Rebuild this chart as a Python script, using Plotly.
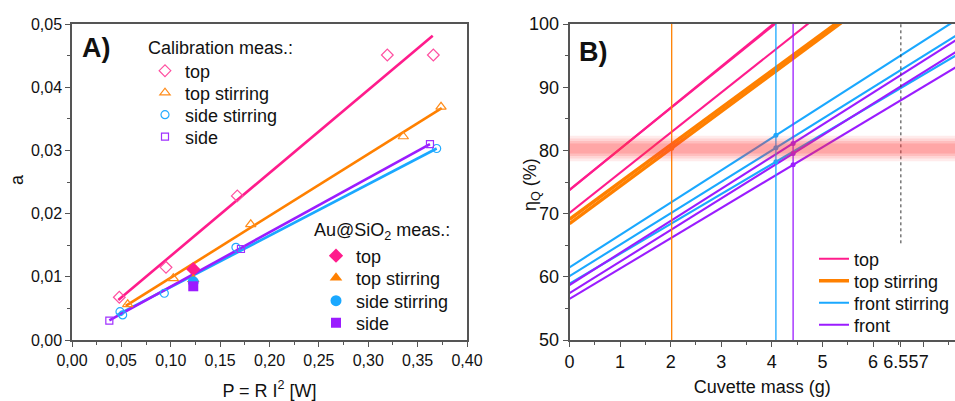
import plotly.graph_objects as go

# ---------------- Panel A data ----------------
cal_top_x = [0.0479, 0.0952, 0.1674, 0.3193, 0.3659]
cal_top_y = [0.00676, 0.0115, 0.0228, 0.0451, 0.0451]
cal_topst_x = [0.0564, 0.1026, 0.181, 0.3355, 0.3737]
cal_topst_y = [0.00565, 0.00976, 0.0183, 0.0322, 0.0369]
cal_sidest_x = [0.0486, 0.0513, 0.0935, 0.166, 0.3693]
cal_sidest_y = [0.00448, 0.00396, 0.0074, 0.01467, 0.0303]
cal_side_x = [0.0378, 0.1711, 0.3625]
cal_side_y = [0.00306, 0.0144, 0.0310]

fit_top_x = [0.0469, 0.3653]
fit_top_y = [0.00633, 0.04815]
fit_topst_x = [0.0544, 0.3744]
fit_topst_y = [0.0054, 0.0367]
fit_sidest_x = [0.0459, 0.3693]
fit_sidest_y = [0.00396, 0.0303]
fit_side_x = [0.0378, 0.3625]
fit_side_y = [0.0031, 0.0310]

au_x = 0.1228
au_top_y = 0.0112
au_topst_y = 0.0096
au_sidest_y = 0.0092
au_side_y = 0.0085

# ---------------- Panel B data ----------------
top_b = [73.7, 73.8, 70.1]
top_m = [6.53, 6.45, 6.35]
topst_b = [68.4, 69.1]
topst_m = [5.92, 5.88]
frontst_b = [61.5, 60.1, 58.9]
frontst_m = [5.12, 4.98, 4.73]
front_b = [58.7, 57.4, 56.5]
front_m = [5.07, 5.00, 4.80]

mass_topst = 2.02
mass_frontst = 4.08
mass_front = 4.42
mass_limit = 6.55
limit_bottom = 65.3
target_eta = 80.3

xB_ticks = [0, 1, 2, 3, 4, 5, 6, 6.55, 7]
xB_ticktext = ["0", "1", "2", "3", "4", "5", "6", "6.55", "7"]
xA_ticks = [0, 0.05, 0.10, 0.15, 0.20, 0.25, 0.30, 0.35, 0.40]
xA_ticktext = ["0,00", "0,05", "0,10", "0,15", "0,20", "0,25", "0,30", "0,35", "0,40"]
yA_ticks = [0, 0.01, 0.02, 0.03, 0.04, 0.05]
yA_ticktext = ["0,00", "0,01", "0,02", "0,03", "0,04", "0,05"]

PINK = "#FF1C8C"
ORANGE = "#FF8000"
BLUE = "#1AA8FF"
PURPLE = "#9B1CFF"
FONT = "Liberation Sans, Arial, sans-serif"

W, H = 955, 401
fig = go.Figure()
legends = {}
leg_count = [0]


def new_legend(px, py):
    leg_count[0] += 1
    key = "legend" if leg_count[0] == 1 else f"legend{leg_count[0]}"
    legends[key] = dict(x=px / W, y=1 - py / H, xanchor="left", yanchor="middle",
                        bgcolor="rgba(0,0,0,0)", font=dict(size=18),
                        borderwidth=0)
    return key


# ---- Panel A: fit lines ----
for fx, fy, c in [(fit_top_x, fit_top_y, PINK), (fit_topst_x, fit_topst_y, ORANGE),
                  (fit_sidest_x, fit_sidest_y, BLUE), (fit_side_x, fit_side_y, PURPLE)]:
    fig.add_trace(go.Scatter(x=fx, y=fy, mode="lines", line=dict(color=c, width=2.6),
                             showlegend=False, xaxis="x", yaxis="y", hoverinfo="skip"))

# ---- Panel A: calibration markers ----
cal_rows = [71, 93, 115, 137]
for (name, xs, ys, c, sym, sz), ry in zip([
        ("top", cal_top_x, cal_top_y, "#FF4FA0", "diamond-open", 9),
        ("top stirring", cal_topst_x, cal_topst_y, "#FF8C1A", "triangle-up-open", 9),
        ("side stirring", cal_sidest_x, cal_sidest_y, "#22AAFF", "circle-open", 8),
        ("side", cal_side_x, cal_side_y, "#A030FF", "square-open", 7)], cal_rows):
    fig.add_trace(go.Scatter(x=xs, y=ys, mode="markers", name=name,
                             marker=dict(color=c, symbol=sym, size=sz, line=dict(width=1.2)),
                             legend=new_legend(145, ry), xaxis="x", yaxis="y"))

# ---- Panel A: Au@SiO2 markers ----
au_rows = [256, 278, 301, 323]
for (name, yv, c, sym, sz), ry in zip([
        ("top", au_top_y, PINK, "diamond", 11),
        ("top stirring", au_topst_y, ORANGE, "triangle-up", 11),
        ("side stirring", au_sidest_y, BLUE, "circle", 11),
        ("side", au_side_y, PURPLE, "square", 10)], au_rows):
    fig.add_trace(go.Scatter(x=[au_x], y=[yv], mode="markers", name=name,
                             marker=dict(color=c, symbol=sym, size=sz),
                             legend=new_legend(316, ry), xaxis="x", yaxis="y"))

# ---- Panel B: efficiency lines ----
XMAX = 8.0


def add_group(bs, ms, color, name, width, leg):
    for i, (b, m) in enumerate(zip(bs, ms)):
        fig.add_trace(go.Scatter(x=[0, XMAX], y=[b, b + m * XMAX], mode="lines",
                                 line=dict(color=color, width=width), name=name,
                                 showlegend=(i == 0), legend=leg,
                                 xaxis="x2", yaxis="y2", hoverinfo="skip"))


leg_top = new_legend(814, 259)
leg_topst = new_legend(814, 281)
leg_frontst = new_legend(814, 303)
leg_front = new_legend(814, 325)
add_group(frontst_b, frontst_m, BLUE, "front stirring", 2.1, leg_frontst)
add_group(front_b, front_m, PURPLE, "front", 2.1, leg_front)
add_group(top_b, top_m, PINK, "top", 2.1, leg_top)
add_group(topst_b, topst_m, ORANGE, "top stirring", 3.4, leg_topst)

# vertical mass lines
for xv, c in [(mass_topst, ORANGE), (mass_frontst, BLUE), (mass_front, PURPLE)]:
    fig.add_trace(go.Scatter(x=[xv, xv], y=[50, 100], mode="lines",
                             line=dict(color=c, width=1.3), showlegend=False,
                             xaxis="x2", yaxis="y2", hoverinfo="skip"))
fig.add_trace(go.Scatter(x=[mass_limit, mass_limit], y=[limit_bottom, 100], mode="lines",
                         line=dict(color="#333333", width=1, dash="dot"), showlegend=False,
                         xaxis="x2", yaxis="y2", hoverinfo="skip"))


# intersection dots
def dots(xv, bs, ms, c):
    fig.add_trace(go.Scatter(x=[xv] * len(bs), y=[b + m * xv for b, m in zip(bs, ms)],
                             mode="markers", marker=dict(color=c, size=5),
                             showlegend=False, xaxis="x2", yaxis="y2", hoverinfo="skip"))


dots(mass_topst, topst_b[:1], topst_m[:1], ORANGE)
dots(mass_frontst, frontst_b, frontst_m, BLUE)
dots(mass_front, front_b, front_m, PURPLE)

# red band around target efficiency
shapes = []
for half, alpha in [(2.0, 0.10), (1.6, 0.12), (1.2, 0.15), (0.8, 0.18)]:
    shapes.append(dict(type="rect", xref="x2 domain", yref="y2", x0=0, x1=1,
                       y0=target_eta - half, y1=target_eta + half,
                       fillcolor=f"rgba(255,60,60,{alpha})", line=dict(width=0),
                       layer="above"))

axis_common = dict(showline=True, linecolor="#555555", linewidth=1.5, ticks="outside",
                   ticklen=5, tickcolor="#555555", tickwidth=1.2, showgrid=False,
                   zeroline=False, automargin=False, tickangle=0)

fig.update_layout(
    width=W, height=H,
    margin=dict(l=0, r=0, t=0, b=0, autoexpand=False),
    paper_bgcolor="white", plot_bgcolor="white",
    font=dict(family=FONT, color="#111111"),
    shapes=shapes,
    xaxis=dict(domain=[72 / W, 467 / W], range=[0, 0.40], anchor="y",
               tickvals=xA_ticks, ticktext=xA_ticktext, tickfont=dict(size=16),
               mirror=True,
               minor=dict(ticks="outside", ticklen=3, dtick=0.025, tickcolor="#555555"),
               title=dict(text="P = R I<sup>2</sup> [W]", font=dict(size=18), standoff=20),
               **axis_common),
    yaxis=dict(domain=[61 / H, 377 / H], range=[0, 0.05], anchor="x",
               tickvals=yA_ticks, ticktext=yA_ticktext, tickfont=dict(size=16),
               mirror=True,
               minor=dict(ticks="outside", ticklen=3, dtick=0.005, tickcolor="#555555"),
               **axis_common),
    xaxis2=dict(domain=[569.5 / W, 1.0], range=[0, 7.62], anchor="y2",
                tickvals=xB_ticks, ticktext=xB_ticktext, tickfont=dict(size=18),
                mirror=True,
                minor=dict(ticks="outside", ticklen=3, dtick=0.5, tickcolor="#555555"),
                title=dict(text="Cuvette mass (g)", font=dict(size=18), standoff=9),
                **axis_common),
    yaxis2=dict(domain=[61 / H, 377 / H], range=[50, 100], anchor="x2",
                dtick=10, tickfont=dict(size=18),
                minor=dict(ticks="outside", ticklen=3, dtick=5, tickcolor="#555555"),
                **axis_common),
    annotations=[
        dict(text="<b>A)</b>", x=80 / W, y=1 - 48 / H, xref="paper", yref="paper",
             xanchor="left", yanchor="middle", showarrow=False, font=dict(size=27)),
        dict(text="<b>B)</b>", x=577 / W, y=1 - 52 / H, xref="paper", yref="paper",
             xanchor="left", yanchor="middle", showarrow=False, font=dict(size=27)),
        dict(text="Calibration meas.:", x=146 / W, y=1 - 48 / H, xref="paper", yref="paper",
             xanchor="left", yanchor="middle", showarrow=False, font=dict(size=18)),
        dict(text="Au@SiO<sub>2</sub> meas.:", x=312 / W, y=1 - 231 / H, xref="paper",
             yref="paper", xanchor="left", yanchor="middle", showarrow=False,
             font=dict(size=18)),
        dict(text="a", x=17 / W, y=1 - 180 / H, xref="paper", yref="paper",
             xanchor="center", yanchor="middle", showarrow=False, textangle=-90,
             font=dict(size=18)),
        dict(text="η<sub>Q</sub> (%)", x=531 / W, y=1 - 185 / H, xref="paper", yref="paper",
             xanchor="center", yanchor="middle", showarrow=False, textangle=-90,
             font=dict(size=18)),
    ],
    **legends,
)

fig.write_html("out.html")
